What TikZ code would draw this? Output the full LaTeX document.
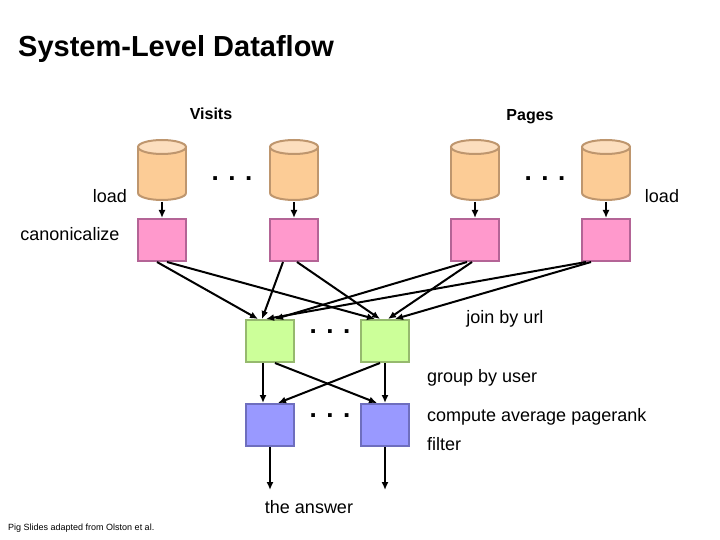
\documentclass[tikz,border=0pt]{standalone}
\usepackage{fontspec}
\setmainfont{Liberation Sans}
\usetikzlibrary{arrows.meta}
\definecolor{cyl}{RGB}{252,204,150}
\definecolor{cyltop}{RGB}{252,222,190}
\definecolor{cylb}{RGB}{190,150,110}
\definecolor{pk}{RGB}{255,153,204}
\definecolor{pkb}{RGB}{180,100,150}
\definecolor{gn}{RGB}{204,255,153}
\definecolor{gnb}{RGB}{150,185,110}
\definecolor{bl}{RGB}{153,153,255}
\definecolor{blb}{RGB}{110,110,190}
\begin{document}
\begin{tikzpicture}[x=1pt,y=-1pt,
 box/.style={line width=2pt,minimum width=48pt,minimum height=42pt,inner sep=0},
 pink/.style={box,draw=pkb,fill=pk},
 grn/.style={box,draw=gnb,fill=gn},
 blu/.style={box,draw=blb,fill=bl},
 arr/.style={-{Latex[length=8pt,width=7pt]},line width=2pt},
 lbl/.style={font=\fontsize{18}{21}\selectfont,inner sep=0}]
\useasboundingbox (0,0) rectangle (720,540);
\node[anchor=west,font=\fontsize{29}{32}\selectfont\bfseries,inner sep=0] (title) at (18,49) {System-Level Dataflow};
\node[lbl,font=\fontsize{16}{18}\selectfont\bfseries] (visits) at (211,114) {Visits};
\node[lbl,font=\fontsize{16}{18}\selectfont\bfseries] (pages) at (530,117) {Pages};
\foreach \n/\x in {c1/162,c2/294,c3/475,c4/606}{
  \fill[cyl] (\x-24,147) rectangle (\x+24,193);
  \fill[cyl] (\x,193) ellipse[x radius=24,y radius=7];
  \draw[cylb,line width=2pt] (\x-24,147) -- (\x-24,193) (\x+24,147) -- (\x+24,193);
  \draw[cylb,line width=2pt] (\x-24,193) arc[start angle=180,end angle=0,x radius=24,y radius=7];
  \draw[cylb,line width=2pt,fill=cyltop] (\x,147) ellipse[x radius=24,y radius=7];
  \coordinate (\n) at (\x,202);
}
\node[pink] (p1) at (162,240) {};
\node[pink] (p2) at (294,240) {};
\node[pink] (p3) at (475,240) {};
\node[pink] (p4) at (606,240) {};
\node[grn] (g1) at (270,341) {};
\node[grn] (g2) at (385,341) {};
\node[blu] (b1) at (270,425) {};
\node[blu] (b2) at (385,425) {};
\foreach \i in {1,2,3,4}{\draw[arr] (c\i) -- (p\i.north);}
\draw[arr] ([xshift=-5]p1.south) -- ([xshift=-12]g1.north);
\draw[arr] ([xshift=5]p1.south) -- ([xshift=-10]g2.north);
\draw[arr] ([xshift=-11]p2.south) -- ([xshift=-8]g1.north);
\draw[arr] ([xshift=3]p2.south) -- ([xshift=-5]g2.north);
\draw[arr] ([xshift=-8]p3.south) -- ([xshift=5]g1.north);
\draw[arr] ([xshift=-3]p3.south) -- ([xshift=3]g2.north);
\draw[arr] ([xshift=-20]p4.south) -- ([xshift=-4]g1.north);
\draw[arr] ([xshift=-15]p4.south) -- ([xshift=10]g2.north);
\draw[arr] ([xshift=-7]g1.south) -- ([xshift=-7]b1.north);
\draw[arr] ([xshift=5]g1.south) -- ([xshift=-8]b2.north);
\draw[arr] ([xshift=-5]g2.south) -- ([xshift=8]b1.north);
\draw[arr] (g2.south) -- (b2.north);
\coordinate (e1) at (270,490);
\coordinate (e2) at (385,490);
\draw[arr] (b1.south) -- (e1);
\draw[arr] (b2.south) -- (e2);
\node[lbl,font=\fontsize{26}{26}\selectfont\bfseries] (d1) at (232,179) {. . .};
\node[lbl,font=\fontsize{26}{26}\selectfont\bfseries] (d2) at (545,179) {. . .};
\node[lbl,font=\fontsize{26}{26}\selectfont\bfseries] (d3) at (330,332) {. . .};
\node[lbl,font=\fontsize{26}{26}\selectfont\bfseries] (d4) at (330,416) {. . .};
\node[lbl] (load1) at (110,196) {load};
\node[lbl] (load2) at (662,196) {load};
\node[lbl] (canon) at (70,234) {canonicalize};
\node[lbl] (join) at (505,319) {join by url};
\node[lbl,anchor=west] (grp) at (427,378) {group by user};
\node[lbl,anchor=west] (comp) at (427,417) {compute average pagerank};
\node[lbl,anchor=west] (filt) at (427,444) {filter};
\node[lbl] (ans) at (309,507) {the answer};
\node[anchor=west,font=\fontsize{9}{10}\selectfont,inner sep=0] (foot) at (8,528) {Pig Slides adapted from Olston et al.};
\end{tikzpicture}
\end{document}
